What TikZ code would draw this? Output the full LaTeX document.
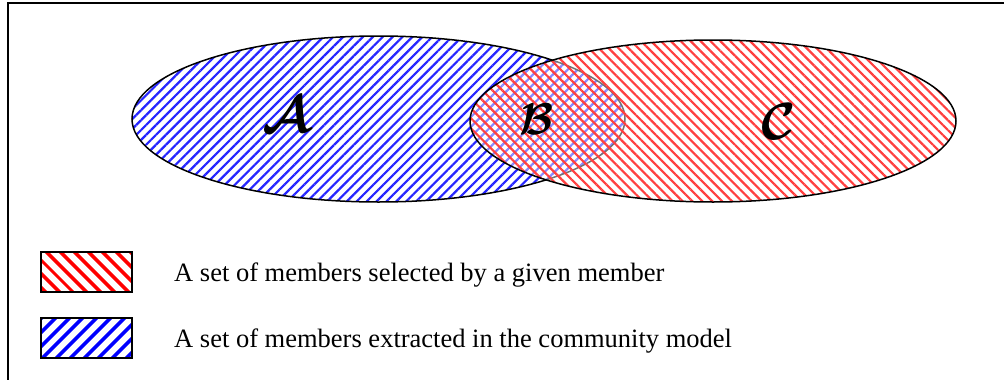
\documentclass[tikz,border=0pt]{standalone}
\usepackage{amsmath,amssymb}
\usepackage{fontspec}
\setmainfont{Liberation Serif}
\usetikzlibrary{patterns.meta,positioning}

\begin{document}
\begin{tikzpicture}[x=1pt,y=-1pt, every node/.style={font=\fontsize{26.5}{30}\selectfont},
    setlbl/.style={inner sep=0pt,font=\fontsize{24.88}{30}\selectfont\boldmath,scale=2.1},
    keybox/.style={draw,line width=1.5pt,minimum width=91pt,minimum height=40pt,inner sep=0pt},
    bluehatch/.style={pattern={Lines[angle=45,distance=7pt,line width=2.2pt]},pattern color=blue!85},
    redhatch/.style={pattern={Lines[angle=-45,distance=7pt,line width=2.2pt]},pattern color=red!75}]
  \useasboundingbox (0,0) rectangle (1004,380);
  \draw[line width=2pt] (8,380) -- (8,3) -- (1004,3);
  % the two sets
  \fill[bluehatch] (378.5,119) ellipse [x radius=246.5, y radius=83];
  \draw[line width=1.5pt] (378.5,119) ellipse [x radius=246.5, y radius=83];
  \fill[white,fill opacity=0.45] (713,121) ellipse [x radius=243, y radius=81];
  \fill[redhatch] (713,121) ellipse [x radius=243, y radius=81];
  \draw[line width=1.5pt] (713,121) ellipse [x radius=243, y radius=81];
  \node[setlbl] (seta) at (287,115) {$\mathcal{A}$};
  \node[setlbl,scale=0.85] (setb) at (537,119) {$\mathcal{B}$};
  \node[setlbl] (setc) at (779,122) {$\mathcal{C}$};
  % legend
  \node[keybox,pattern={Lines[angle=-45,distance=10.5pt,line width=4pt]},pattern color=red]   (redkey)  at (86.5,272) {};
  \node[keybox,pattern={Lines[angle=45,distance=10.5pt,line width=4pt]},pattern color=blue] (bluekey) at (86.5,338) {};
  \node[right=40pt of redkey,inner sep=0pt,yshift=-3pt]  (redtext)  {A set of members selected by a given member};
  \node[right=40pt of bluekey,inner sep=0pt,yshift=-3pt] (bluetext) {A set of members extracted in the community model};
\end{tikzpicture}
\end{document}
